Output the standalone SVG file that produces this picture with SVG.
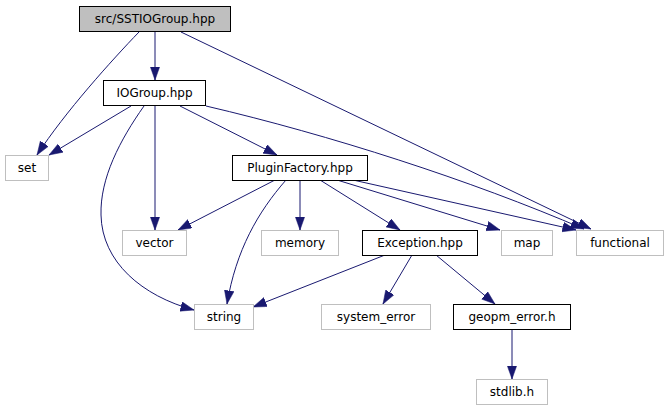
<svg xmlns="http://www.w3.org/2000/svg" width="669" height="411" viewBox="0 0 669 411">
<style>
.n rect{fill:#fff;stroke:#bfbfbf;stroke-width:1}
.n.d rect{stroke:#000}
.n.m rect{fill:#bfbfbf;stroke:#000}
.n text{font-family:"DejaVu Sans",sans-serif;font-size:12px;fill:#000;text-anchor:middle}
.e path{fill:none;stroke:#191970;stroke-width:1;marker-end:url(#a)}
</style>
<defs>
<marker id="a" markerUnits="userSpaceOnUse" markerWidth="15" markerHeight="11" refX="13.5" refY="4.8" orient="auto">
<path d="M0,0 L13.5,4.8 L0,9.6 z" fill="#191970" stroke="#191970" stroke-width="0.5"/>
</marker>
</defs>
<rect width="669" height="411" fill="#fff"/>
<g class="e">
<path d="M155,31 L155,80"/>
<path d="M139,32 C112,60 65,112 37,155"/>
<path d="M181,32 L591,229"/>
<path d="M131,106 L49,155"/>
<path d="M144,106 C120,140 100,178 101,215 C102,262 142,296 194,310"/>
<path d="M155,106 L155,230"/>
<path d="M180,106 L277,155"/>
<path d="M206,106 C330,135 470,180 584,229"/>
<path d="M275,180 L178,230"/>
<path d="M286,180 C258,212 236,250 227,304"/>
<path d="M300,180 L300,230"/>
<path d="M320,180 L400,230"/>
<path d="M337,180 L500,230"/>
<path d="M353,180 L576,230"/>
<path d="M385,255 L253,307"/>
<path d="M412,255 L383,304"/>
<path d="M436,255 L495,304"/>
<path d="M512,330 L512,379"/>
</g>
<g id="sstio" class="n m"><rect x="79.5" y="6.5" width="151" height="25"/><text x="155" y="23">src/SSTIOGroup.hpp</text></g>
<g id="iogroup" class="n d"><rect x="103.5" y="80.5" width="102" height="25"/><text x="154.5" y="97">IOGroup.hpp</text></g>
<g id="set" class="n"><rect x="5.5" y="155.5" width="43" height="25"/><text x="27" y="172">set</text></g>
<g id="pluginfactory" class="n d"><rect x="232.5" y="155.5" width="135" height="25"/><text x="300" y="172">PluginFactory.hpp</text></g>
<g id="vector" class="n"><rect x="122.5" y="230.5" width="64" height="25"/><text x="154.5" y="247">vector</text></g>
<g id="memory" class="n"><rect x="261.5" y="230.5" width="77" height="25"/><text x="300" y="247">memory</text></g>
<g id="exception" class="n d"><rect x="362.5" y="230.5" width="115" height="25"/><text x="420" y="247">Exception.hpp</text></g>
<g id="map" class="n"><rect x="501.5" y="230.5" width="51" height="25"/><text x="527" y="247">map</text></g>
<g id="functional" class="n"><rect x="576.5" y="230.5" width="87" height="25"/><text x="620" y="247">functional</text></g>
<g id="string" class="n"><rect x="194.5" y="304.5" width="59" height="25"/><text x="224" y="321">string</text></g>
<g id="system_error" class="n"><rect x="321.5" y="304.5" width="109" height="25"/><text x="376" y="321">system_error</text></g>
<g id="geopm_error" class="n d"><rect x="453.5" y="304.5" width="117" height="25"/><text x="512" y="321">geopm_error.h</text></g>
<g id="stdlib" class="n"><rect x="476.5" y="379.5" width="71" height="25"/><text x="512" y="396">stdlib.h</text></g>
</svg>
